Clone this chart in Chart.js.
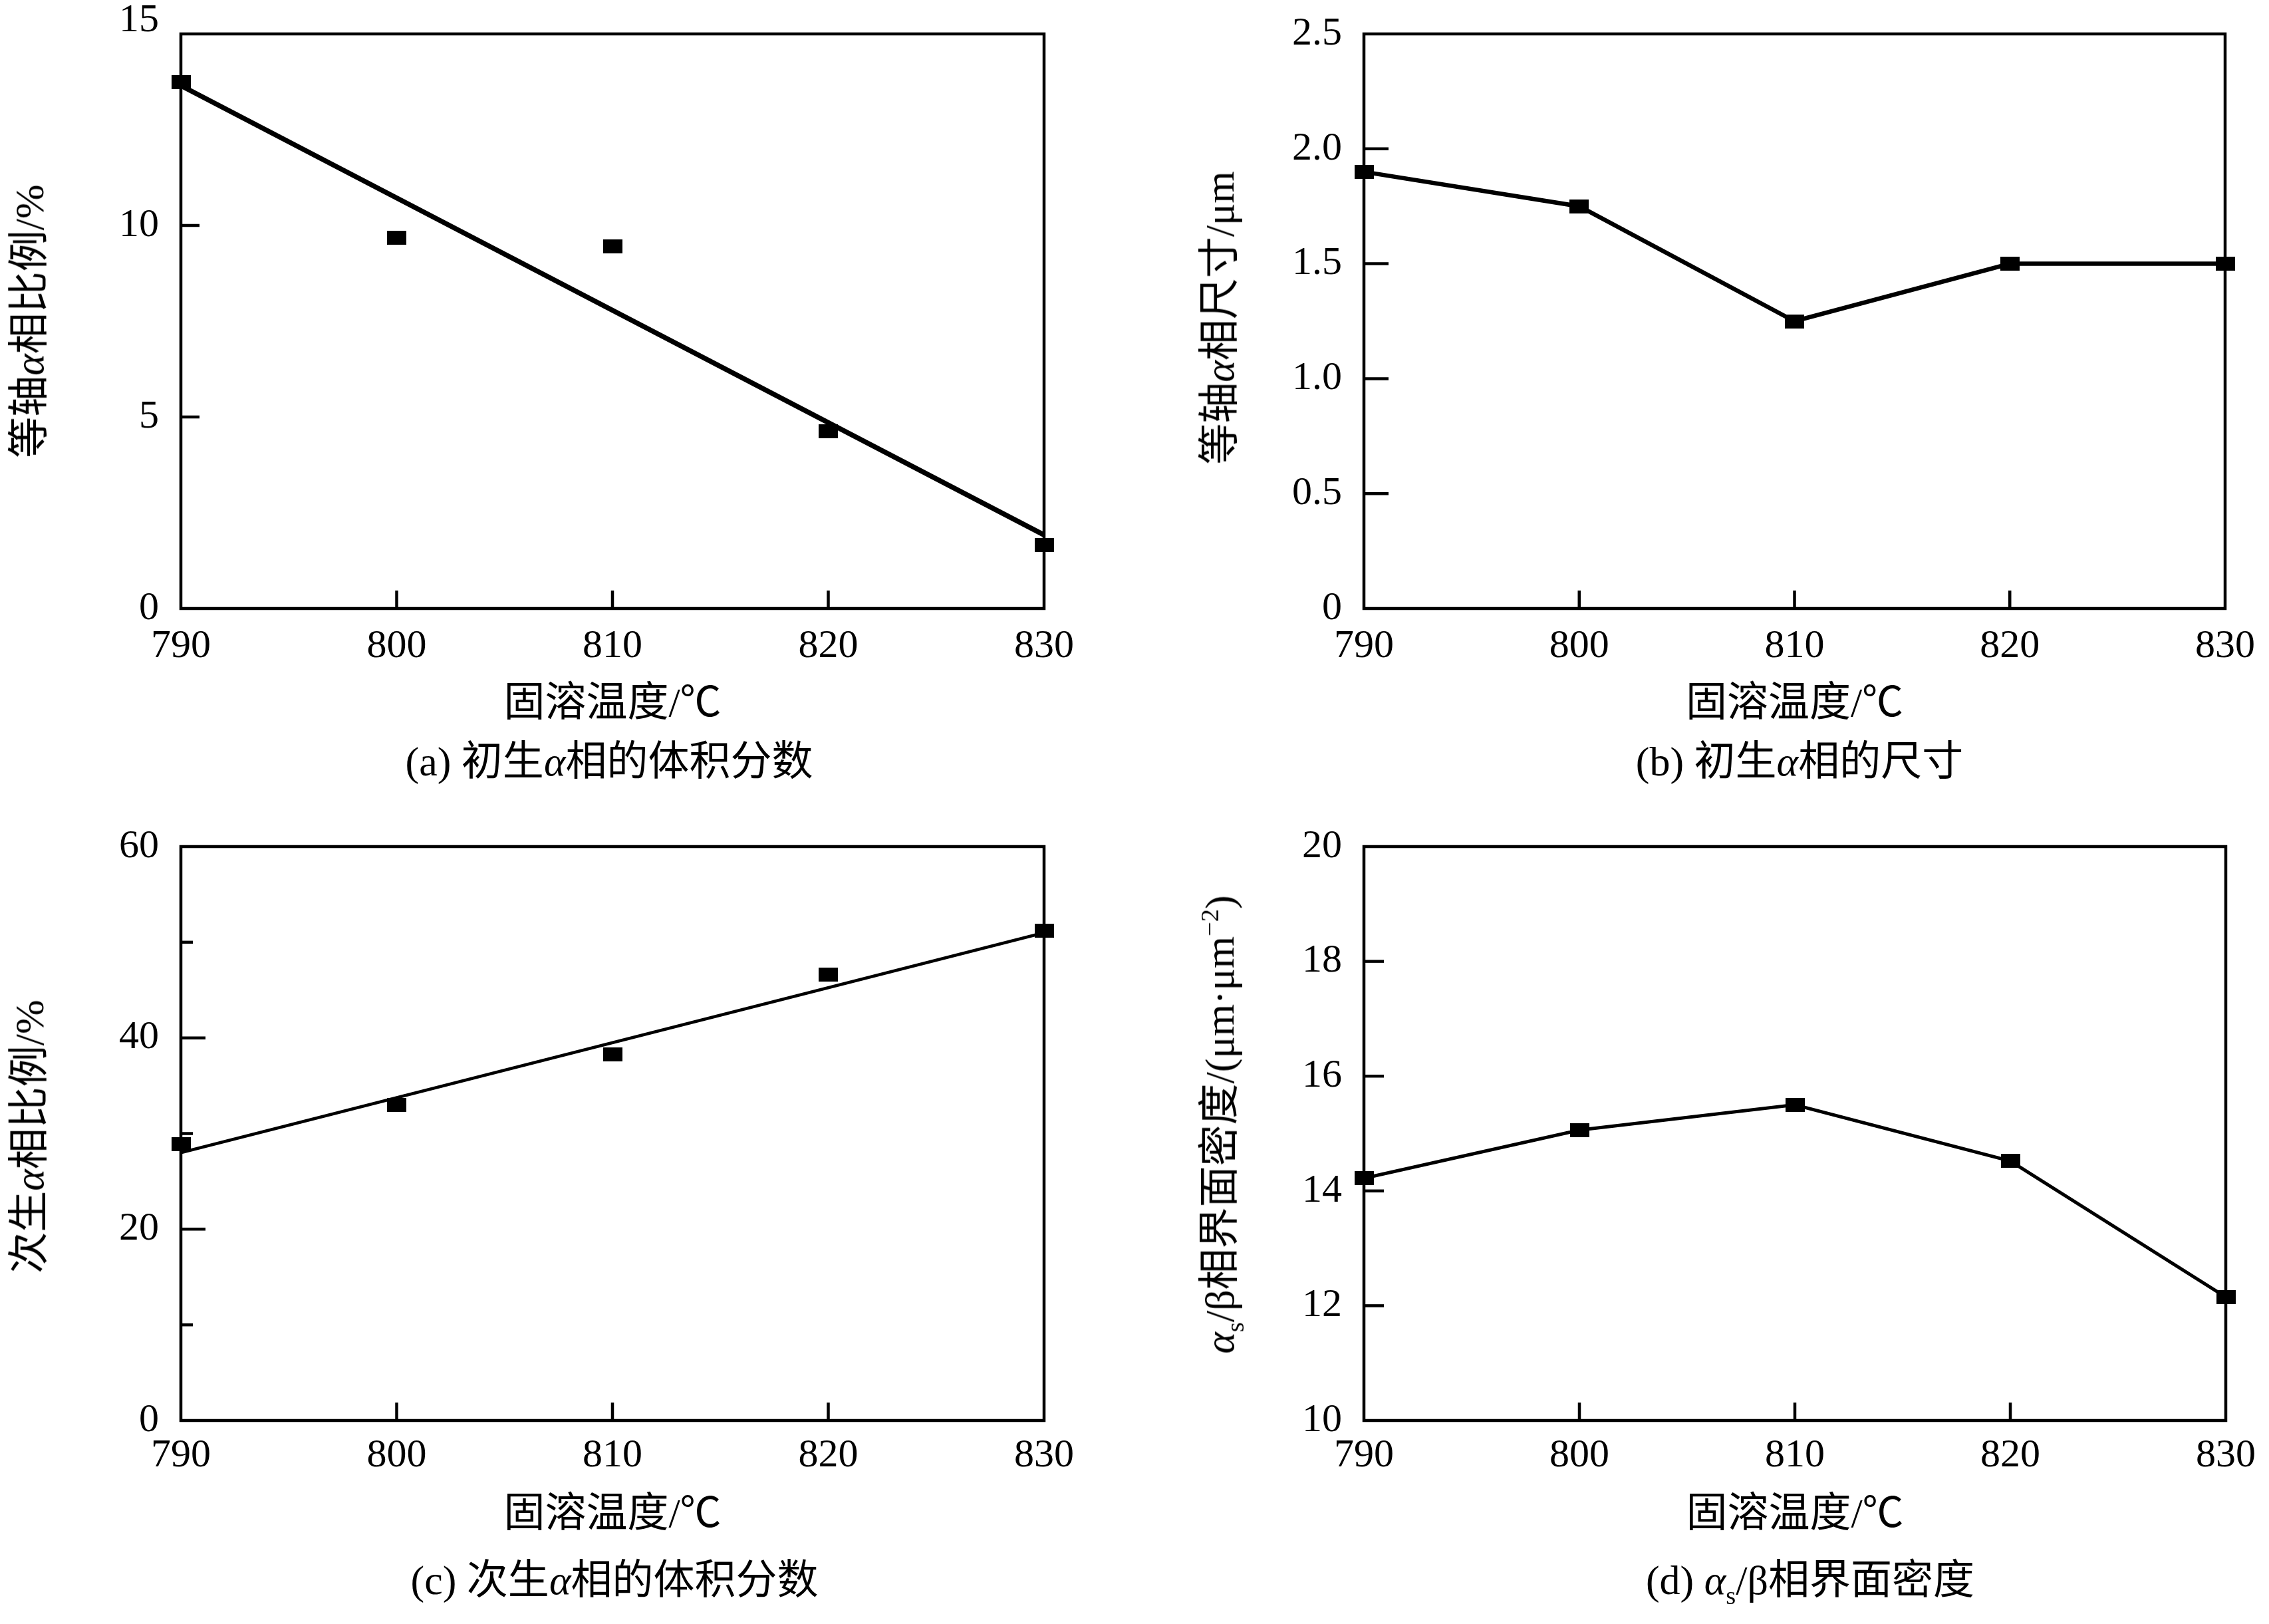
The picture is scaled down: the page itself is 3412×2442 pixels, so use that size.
<!DOCTYPE html>
<html>
<head>
<meta charset="utf-8">
<script src="https://cdn.jsdelivr.net/npm/chart.js@4.4.1/dist/chart.umd.min.js"></script>
<style>
html,body{margin:0;padding:0;background:#fff;}
#root{position:relative;width:3412px;height:2442px;overflow:hidden;background:#fff;
  font-family:'Liberation Serif','Noto Sans CJK SC',serif;color:#000;}
.panel{position:absolute;width:1706px;height:1221px;}
.panel canvas{position:absolute;left:0;top:0;}
.ytitle,.caption{position:absolute;white-space:nowrap;font-size:62px;line-height:1;}
.ytitle{transform:translate(-50%,-50%) rotate(-90deg);}
.caption{transform:translate(-50%,-50%);}
i.g{font-family:'Liberation Serif',serif;font-style:italic;}
sub{font-size:0.62em;vertical-align:-0.4em;line-height:0;}
sup{font-size:0.62em;vertical-align:0.6em;line-height:0;}
</style>
</head>
<body>
<div id="root">
  <div class="panel" style="left:0;top:0;">
    <canvas id="ca" width="1706" height="1221"></canvas>
    <div class="ytitle" style="left:44px;top:483px;">等轴<i class="g">α</i>相比例/%</div>
    <div class="caption" style="left:916px;top:1145px;">(a) 初生<i class="g">α</i>相的体积分数</div>
  </div>
  <div class="panel" style="left:1706px;top:0;">
    <canvas id="cb" width="1706" height="1221"></canvas>
    <div class="ytitle" style="left:128px;top:478px;">等轴<i class="g">α</i>相尺寸/μm</div>
    <div class="caption" style="left:1000px;top:1145px;">(b) 初生<i class="g">α</i>相的尺寸</div>
  </div>
  <div class="panel" style="left:0;top:1221px;">
    <canvas id="cc" width="1706" height="1221"></canvas>
    <div class="ytitle" style="left:44px;top:488px;">次生<i class="g">α</i>相比例/%</div>
    <div class="caption" style="left:924px;top:1155px;">(c) 次生<i class="g">α</i>相的体积分数</div>
  </div>
  <div class="panel" style="left:1706px;top:1221px;">
    <canvas id="cd" width="1706" height="1221"></canvas>
    <div class="ytitle" style="left:128px;top:470px;"><i class="g">α</i><sub>s</sub>/β相界面密度/(μm·μm<sup>−2</sup>)</div>
    <div class="caption" style="left:1016px;top:1155px;">(d) <i class="g">α</i><sub>s</sub>/β相界面密度</div>
  </div>
</div>
<script>
// ---------------- data ----------------
const temps = [790, 800, 810, 820, 830];
const fitTemps = [790, 830];
const primaryFraction = [13.75, 9.68, 9.45, 4.62, 1.65];
const primaryFractionFit = [13.65, 1.92];
const primarySize = [1.9, 1.75, 1.25, 1.5, 1.5];
const secondaryFraction = [28.9, 33.0, 38.3, 46.6, 51.2];
const secondaryFractionFit = [28.0, 51.0];
const interfaceDensity = [14.22, 15.06, 15.5, 14.52, 12.15];

const xTicks = [790, 800, 810, 820, 830];
const yTicksA = [0, 5, 10, 15];
const yTicksB = [0, 0.5, 1.0, 1.5, 2.0, 2.5];
const yTicksC = [0, 10, 20, 30, 40, 50, 60];
const yLabeledC = [0, 20, 40, 60];
const yTicksD = [10, 12, 14, 16, 18, 20];
const xTitle = '固溶温度/℃';

// ---------------- helpers ----------------
const FONT = "'Liberation Serif', 'Noto Sans CJK SC', serif";

function makeMarker(w, h) {
  const c = document.createElement('canvas');
  c.width = w; c.height = h;
  const g = c.getContext('2d');
  g.fillStyle = '#000';
  g.fillRect(0, 0, w, h);
  return c;
}
const marker = makeMarker(29, 21);

const frameTicks = {
  id: 'frameTicks',
  beforeDatasetsDraw(chart, args, opts) {
    const ctx = chart.ctx;
    const {left, right, top, bottom} = chart.chartArea;
    ctx.save();
    ctx.strokeStyle = '#000';
    ctx.lineWidth = 4.5;
    ctx.lineCap = 'butt';
    const xs = chart.scales.x, ys = chart.scales.y;
    xs.ticks.forEach(t => {
      if (t.value <= xs.min || t.value >= xs.max) return;
      const px = xs.getPixelForValue(t.value);
      ctx.beginPath(); ctx.moveTo(px, bottom); ctx.lineTo(px, bottom - opts.xLen); ctx.stroke();
    });
    ys.ticks.forEach(t => {
      if (t.value <= ys.min || t.value >= ys.max) return;
      const py = ys.getPixelForValue(t.value);
      const len = (t.label === '' || t.label == null) ? opts.yMinor : opts.yLen;
      ctx.beginPath(); ctx.moveTo(left, py); ctx.lineTo(left + len, py); ctx.stroke();
    });
    ctx.lineJoin = 'miter';
    ctx.strokeRect(left, top, right - left, bottom - top);
    ctx.restore();
  }
};

function pts(xsArr, ysArr) { return xsArr.map((x, i) => ({x: x, y: ysArr[i]})); }

function makeChart(id, cfg) {
  return new Chart(document.getElementById(id), {
    type: 'scatter',
    data: {datasets: cfg.datasets},
    options: {
      responsive: false,
      animation: false,
      events: [],
      layout: {padding: {top: cfg.top, right: cfg.right, left: 0, bottom: 0}},
      plugins: {
        legend: {display: false},
        tooltip: {enabled: false},
        frameTicks: {xLen: 27, yLen: cfg.yLen, yMinor: cfg.yMinor || 18}
      },
      scales: {
        x: {
          type: 'linear', min: 790, max: 830,
          afterBuildTicks: s => { s.ticks = xTicks.map(v => ({value: v})); },
          afterFit: s => { s.height = 306; },
          grid: {display: false, drawTicks: false},
          border: {display: false},
          ticks: {padding: cfg.xPad, font: {family: FONT, size: 60}, color: '#000',
                  maxRotation: 0, autoSkip: false, callback: v => String(v)},
          title: {display: true, text: xTitle, color: '#000',
                  font: {family: FONT, size: 62, lineHeight: 1.2},
                  padding: {top: 0, bottom: cfg.titlePad}}
        },
        y: {
          type: 'linear', min: cfg.ymin, max: cfg.ymax,
          afterBuildTicks: s => { s.ticks = cfg.yTicks.map(v => ({value: v})); },
          afterFit: s => { s.width = cfg.yWidth; s.paddingTop = 0; s.paddingBottom = 0; },
          grid: {display: false, drawTicks: false},
          border: {display: false},
          ticks: {padding: 33, font: {family: FONT, size: 60, lineHeight: 0.67}, color: '#000',
                  autoSkip: false, callback: cfg.yLabel}
        }
      }
    },
    plugins: [frameTicks]
  });
}

function markerSet(data, withLine, bw) {
  return {data: data, showLine: withLine, borderColor: '#000', borderWidth: bw || 0,
          pointStyle: marker, pointRadius: 15, pointHoverRadius: 15,
          pointBackgroundColor: '#000', pointBorderWidth: 0, clip: false, tension: 0};
}
function lineSet(data, bw) {
  return {data: data, showLine: true, borderColor: '#000', borderWidth: bw,
          pointRadius: 0, pointHoverRadius: 0, clip: false, tension: 0};
}

makeChart('ca', {
  datasets: [markerSet(pts(temps, primaryFraction), false), lineSet(pts(fitTemps, primaryFractionFit), 7.5)],
  top: 51, right: 136, yWidth: 272, ymin: 0, ymax: 15, yTicks: yTicksA, yLen: 28,
  xPad: 21, titlePad: 123, yLabel: v => (v === 15 ? ['15', ''] : String(v))
});
makeChart('cb', {
  datasets: [markerSet(pts(temps, primarySize), true, 6.5)],
  top: 51, right: 65, yWidth: 345, ymin: 0, ymax: 2.5, yTicks: yTicksB, yLen: 37,
  xPad: 21, titlePad: 123, yLabel: v => (v === 0 ? '0' : Number(v).toFixed(1))
});
makeChart('cc', {
  datasets: [markerSet(pts(temps, secondaryFraction), false), lineSet(pts(fitTemps, secondaryFractionFit), 4.5)],
  top: 52, right: 136, yWidth: 272, ymin: 0, ymax: 60, yTicks: yTicksC, yLen: 37, yMinor: 18,
  xPad: 17, titlePad: 125, yLabel: v => (yLabeledC.includes(v) ? String(v) : '')
});
makeChart('cd', {
  datasets: [markerSet(pts(temps, interfaceDensity), true, 5)],
  top: 52, right: 65, yWidth: 345, ymin: 10, ymax: 20, yTicks: yTicksD, yLen: 30,
  xPad: 17, titlePad: 125, yLabel: v => String(v)
});
</script>
</body>
</html>
